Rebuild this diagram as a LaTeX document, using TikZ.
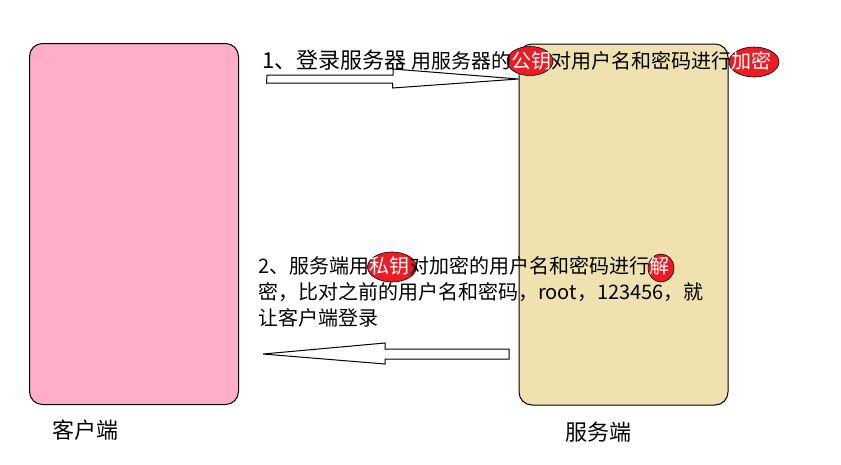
\documentclass[tikz,border=0pt]{standalone}
\usepackage{fontspec}
\setmainfont{Noto Sans CJK SC}
\usetikzlibrary{shapes.geometric}
\definecolor{clientpink}{RGB}{255,173,201}
\definecolor{serverbeige}{RGB}{239,226,176}
\definecolor{keyred}{RGB}{237,28,36}

\begin{document}
\begin{tikzpicture}[x=1pt, y=-1pt,
  box/.style={draw, line width=1pt, rounded corners=13pt, inner sep=0pt, minimum width=209pt, minimum height=361pt},
  keymark/.style={ellipse, draw, line width=0.6pt, fill=keyred, inner sep=0pt},
  hollow/.style={draw, line width=1pt, fill=white, line join=miter},
  say/.style={font=\fontsize{20}{26}\selectfont, inner sep=0pt, align=left},
  who/.style={font=\fontsize{22}{26}\selectfont, inner sep=0pt}]
  \useasboundingbox (0,0) rectangle (841,464);
  % client and server
  \node[box, fill=clientpink] (client) at (134,224) {};
  \node[box, fill=serverbeige] (server) at (623.5,224.5) {};
  \node[who] (clientname) at (85,430) {客户端};
  \node[who] (servername) at (598,432) {服务端};
  % marks on the keys
  \node[keymark, minimum width=46pt, minimum height=29pt] (pub) at (530,61) {};
  \node[keymark, minimum width=50pt, minimum height=30pt] (enc) at (754,62) {};
  \node[keymark, minimum width=49pt, minimum height=30pt] (priv) at (392,267) {};
  \node[keymark, minimum width=26pt, minimum height=28pt] (dec) at (661,268) {};
  % block arrows
  \coordinate (sendtail) at (267,79);
  \coordinate (sendtip) at (server.west |- sendtail);
  \draw[hollow] (sendtail) ++(0,-4) -- ++(126,0) -- ++(0,-6) -- (sendtip)
    -- ++(-126,9) -- ++(0,-5) -- ++(-126,0) -- cycle;
  \coordinate (backtail) at (509,354);
  \coordinate (backtip) at (263,354);
  \draw[hollow] (backtail) ++(0,-5) -- ++(-124,0) -- ++(0,-6) -- (backtip)
    -- ++(122,10) -- ++(0,-5) -- ++(124,0) -- cycle;
  % messages
  \node[say, anchor=base west] (login) at (262,68) {{\fontsize{22}{26}\selectfont 1、登录服务器}\hspace{5pt}{\fontsize{20}{26}\selectfont 用服务器的\textcolor{white}{公钥}对用户名和密码进行\textcolor{white}{加密}}};
  \node[say, anchor=north west] (reply) at (258,256) {2、服务端用\textcolor{white}{私钥}对加密的用户名和密码进行\textcolor{white}{解}\\密，比对之前的用户名和密码，root，123456，就\\让客户端登录};
\end{tikzpicture}
\end{document}
